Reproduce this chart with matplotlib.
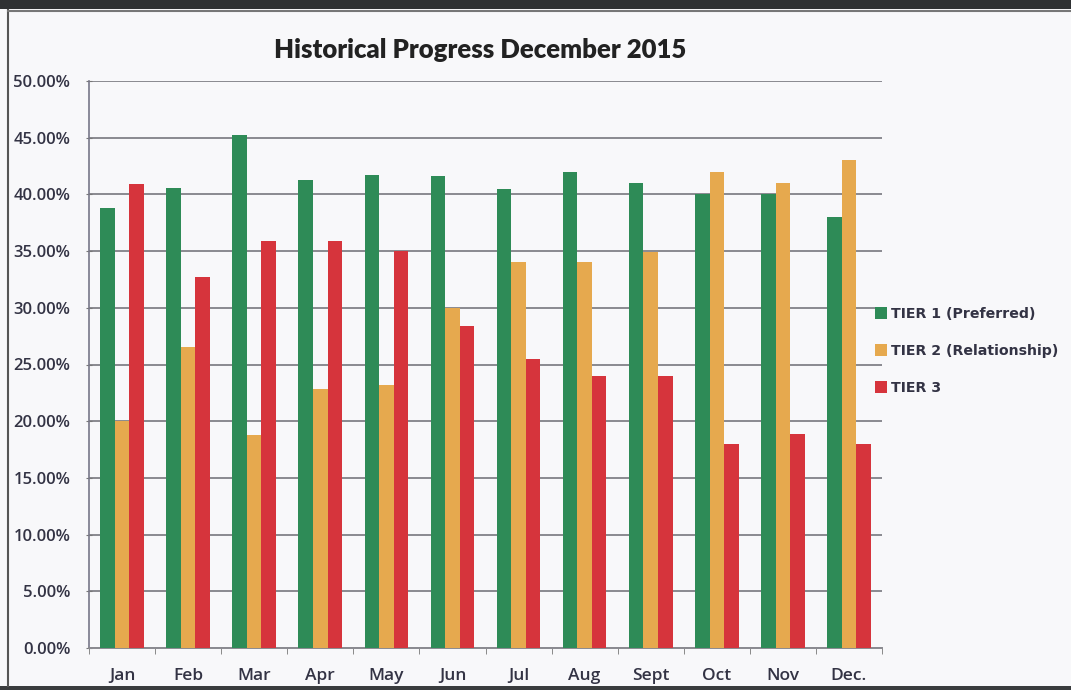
import matplotlib
matplotlib.use("Agg")
import matplotlib.pyplot as plt
import numpy as np
from matplotlib.patches import Rectangle
from matplotlib.ticker import FuncFormatter

months = ["Jan", "Feb", "Mar", "Apr", "May", "Jun", "Jul", "Aug", "Sept", "Oct", "Nov", "Dec."]
tier1 = [38.8, 40.6, 45.2, 41.3, 41.7, 41.6, 40.5, 42.0, 41.0, 40.0, 40.0, 38.0]
tier2 = [20.0, 26.5, 18.8, 22.8, 23.2, 30.0, 34.0, 34.0, 34.9, 42.0, 41.0, 43.0]
tier3 = [40.9, 32.7, 35.9, 35.9, 35.0, 28.4, 25.5, 24.0, 24.0, 18.0, 18.9, 18.0]
series_names = ["TIER 1 (Preferred)", "TIER 2 (Relationship)", "TIER 3"]
colors = ["#2e8b57", "#e6a94e", "#d6343c"]
yticks = np.arange(0, 50.01, 5)

W, H = 1071, 690
fig = plt.figure(figsize=(W / 100, H / 100), dpi=100)
fig.patch.set_facecolor("#f8f8fa")

# dark photo border
fig.patches.append(Rectangle((0, 1 - 9 / H), 1, 9 / H, transform=fig.transFigure,
                             facecolor="#2f3133", edgecolor="none", zorder=0))
fig.patches.append(Rectangle((0, 0), 1, 4 / H, transform=fig.transFigure,
                             facecolor="#3a3c3e", edgecolor="none", zorder=0))
fig.lines.append(plt.Line2D([8 / W, 8 / W], [4 / H, 1 - 10 / H], transform=fig.transFigure,
                            color="#555555", lw=1.5))
fig.lines.append(plt.Line2D([8 / W, 1], [1 - 11 / H, 1 - 11 / H], transform=fig.transFigure,
                            color="#777777", lw=1.5))

left, right = 89 / W, 882 / W
bottom, top = (H - 648) / H, (H - 81) / H
ax = fig.add_axes([left, bottom, right - left, top - bottom])
ax.set_facecolor("none")

x = np.arange(len(months))
bw = 0.22
for i, (vals, c, name) in enumerate(zip([tier1, tier2, tier3], colors, series_names)):
    ax.bar(x + (i - 1) * bw, vals, width=bw, color=c, label=name, zorder=3)

ax.set_xlim(-0.5, len(months) - 0.5)
ax.set_ylim(0, 50)
ax.set_yticks(yticks)
ax.yaxis.set_major_formatter(FuncFormatter(lambda v, p: f"{v:.2f}%"))
ax.yaxis.grid(True, color="#8a8a90", lw=1.4, zorder=0)
ax.set_xticks(x)
ax.set_xticklabels(months)
ax.set_xticks(np.arange(-0.5, len(months), 1), minor=True)
ax.tick_params(axis="x", which="major", length=0, pad=20, labelsize=12.5, labelcolor="#333344")
ax.tick_params(axis="x", which="minor", length=4, color="#777777", direction="out")
ax.tick_params(axis="y", length=5, color="#777777", direction="inout", pad=11,
               labelsize=12, labelcolor="#333344")
for lab in ax.get_xticklabels() + ax.get_yticklabels():
    lab.set_family("Open Sans")
    lab.set_fontweight("semibold")
for lab in ax.get_xticklabels():
    lab.set_va("center")
for s in ["top", "right"]:
    ax.spines[s].set_visible(False)
ax.spines["left"].set_color("#777788")
ax.spines["left"].set_linewidth(1.2)
ax.spines["bottom"].set_color("#8a8a90")
ax.spines["bottom"].set_linewidth(1.4)

fig.text(480 / W, 1 - 50 / H, "Historical Progress December 2015", ha="center", va="center",
         fontsize=18.5, fontweight="heavy", family="Lato", color="#222222")

leg = ax.legend(loc="center left", bbox_to_anchor=(862 / W, 1 - 351 / H),
                bbox_transform=fig.transFigure, frameon=False,
                prop={"family": "DejaVu Sans", "size": 10.2, "weight": "bold"},
                handlelength=0.85, handleheight=0.85, handletextpad=0.3, labelspacing=1.62,
                labelcolor="#333344")

fig.savefig("out.png", dpi=100, facecolor=fig.get_facecolor())
